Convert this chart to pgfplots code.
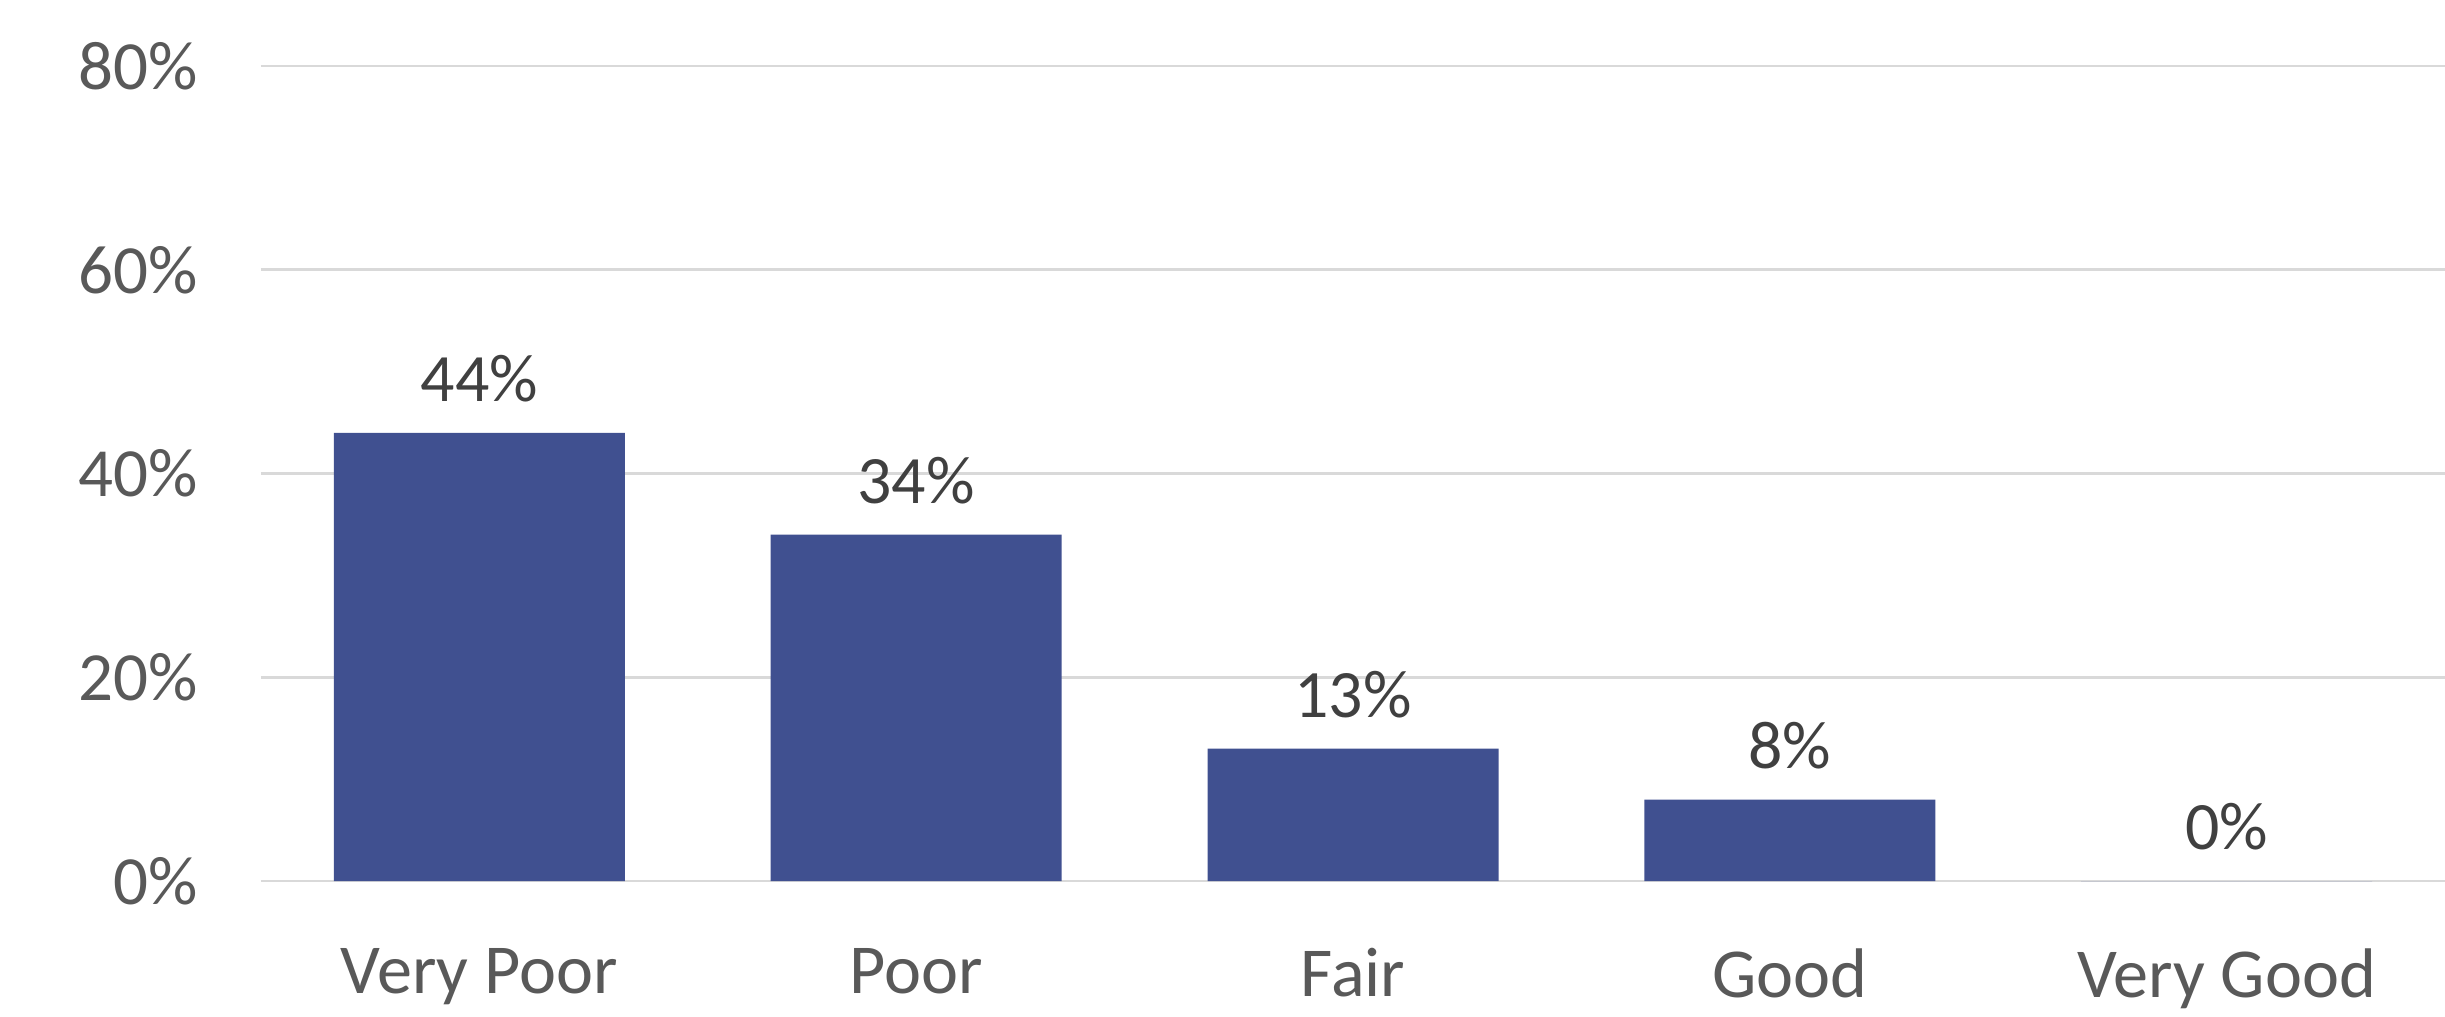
\documentclass[border=0pt]{standalone}
\usepackage{fontspec}
\setmainfont{Carlito}
\usepackage{pgfplots}
\pgfplotsset{compat=1.18}
\definecolor{barblue}{RGB}{64,80,144}
\definecolor{tickgray}{RGB}{89,89,89}
\definecolor{labgray}{RGB}{64,64,64}
\definecolor{gridgray}{RGB}{217,217,217}
\begin{document}
\begin{tikzpicture}
\useasboundingbox (0,0) rectangle (815pt,339pt);
\begin{axis}[
  at={(87pt,45.3pt)}, anchor=south west,
  scale only axis,
  width=728pt, height=271.7pt,
  xmin=-0.5, xmax=4.5,
  ymin=0, ymax=80,
  ytick={0,20,40,60,80},
  xtick={0,1,2,3,4},
  xticklabels={Very Poor,Poor,Fair,Good,Very Good},
  yticklabel={\pgfmathprintnumber[fixed,precision=0,assume math mode=true]{\tick}\%},
  axis line style={draw=none},
  tick style={draw=none},
  ymajorgrids,
  grid style={color=gridgray, line width=0.9pt},
  yticklabel style={font=\fontsize{23}{27}\selectfont, text=tickgray, anchor=east, inner sep=0pt, xshift=-21pt},
  xticklabel style={font=\fontsize{23.4}{28}\selectfont, text=tickgray, anchor=north, inner sep=0pt, yshift=-18pt},
  ybar, bar width=97pt,
  nodes near coords={\pgfmathprintnumber[fixed,precision=0,assume math mode=true]{\pgfplotspointmeta}\%},
  every node near coord/.append style={font=\fontsize{22.6}{27}\selectfont, text=labgray, anchor=south, inner sep=0pt, yshift=10pt},
  clip=false,
]
\addplot[fill=barblue, draw=none] coordinates {(0,44) (1,34) (2,13) (3,8) (4,0)};
\end{axis}
\end{tikzpicture}
\end{document}
